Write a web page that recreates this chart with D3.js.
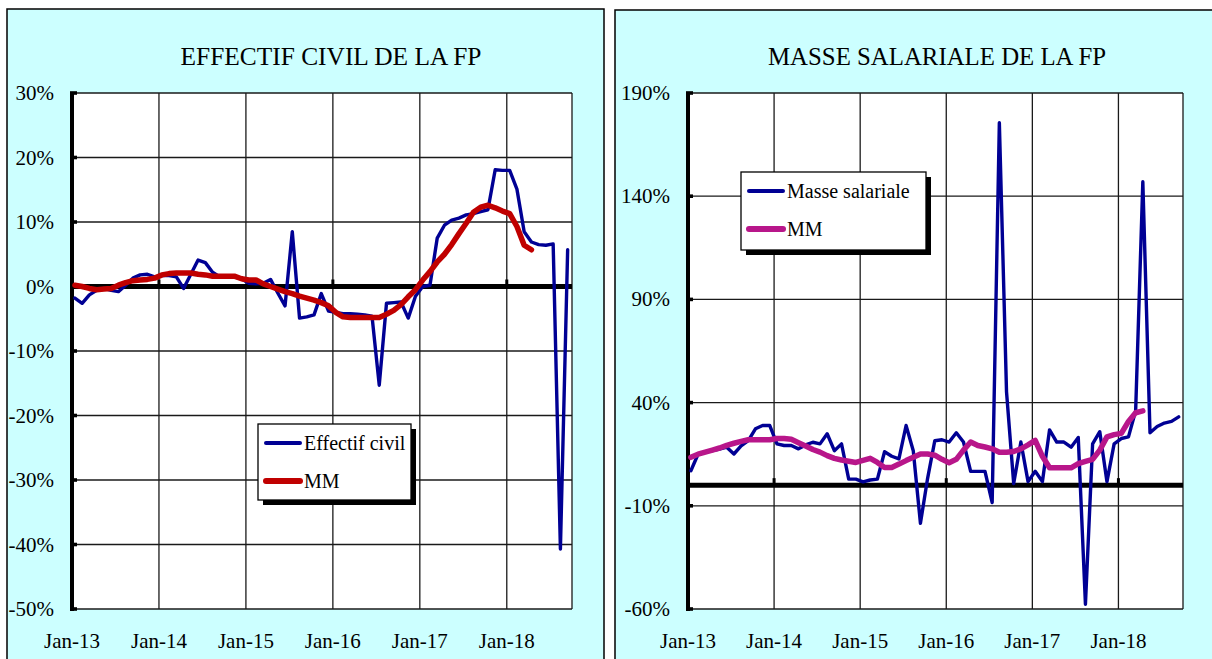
<!DOCTYPE html>
<html>
<head>
<meta charset="utf-8">
<script src="https://cdn.jsdelivr.net/npm/d3@7/dist/d3.min.js"></script>
<style>
  body { margin: 0; background: #fff; }
</style>
</head>
<body>
<script>
//============ data =========//
var xTickLabels = ['Jan-13', 'Jan-14', 'Jan-15', 'Jan-16', 'Jan-17', 'Jan-18'];

// monthly growth rates, Jan-13 onwards (%)
var effectifCivil = [
  -1.8, -2.6, -1.3, -0.6, -0.3, -0.6, -0.8, 0.2, 1.3, 1.8, 1.9, 1.5,
  1.7, 1.7, 1.5, -0.3, 1.9, 4.1, 3.7, 2.2, 1.5, 1.5, 1.5, 1.2,
  0.5, 0.4, 0.5, 1.1, -1.0, -3.0, 8.5, -4.9, -4.7, -4.4, -1.1, -3.8,
  -4.0, -4.2, -4.2, -4.3, -4.4, -4.6, -15.3, -2.6, -2.5, -2.4, -4.9, -1.5,
  0.0, 0.2, 7.5, 9.5, 10.3, 10.6, 11.1, 11.3, 11.6, 11.9, 18.1, 18.0,
  18.0, 15.1, 8.5, 6.9, 6.5, 6.4, 6.6, -40.7, 5.7
];
var effectifMM = [
  0.2, 0.0, -0.3, -0.5, -0.4, -0.3, 0.2, 0.6, 0.9, 1.0, 1.1, 1.3,
  1.8, 2.0, 2.1, 2.1, 2.1, 1.9, 1.8, 1.6, 1.6, 1.6, 1.6, 1.2,
  1.0, 1.0, 0.4, 0.0, -0.4, -0.8, -1.1, -1.5, -1.8, -2.1, -2.5, -3.0,
  -4.0, -4.7, -4.8, -4.8, -4.8, -4.8, -4.8, -4.3, -3.7, -2.8, -1.6, -0.5,
  1.0, 2.3, 3.8, 5.0, 6.5, 8.2, 9.8, 11.5, 12.3, 12.6, 12.2, 11.7,
  11.3, 9.3, 6.4, 5.7
];
var masseSalariale = [
  7.0, 15.0, 16.0, 16.7, 17.5, 18.4, 15.1, 19.0, 21.6, 27.3, 28.9, 28.9,
  20.0, 19.2, 19.2, 17.6, 19.5, 20.8, 20.0, 24.9, 16.7, 20.0, 2.9, 2.9,
  1.6, 2.5, 2.9, 16.2, 14.0, 12.7, 28.9, 16.7, -18.5, 3.3, 21.5, 22.0,
  20.9, 25.4, 20.9, 6.7, 6.7, 6.7, -8.4, 175.6, 45.2, 0.8, 20.9, 1.7,
  6.7, 1.7, 26.8, 20.9, 20.9, 18.4, 23.1, -57.7, 20.0, 25.9, 1.7, 20.0,
  22.6, 23.4, 36.0, 147.0, 25.4, 28.4, 30.1, 30.9, 33.1
];
var masseMM = [
  13.5, 15.0, 16.0, 17.0, 18.0, 19.3, 20.3, 21.2, 22.0, 22.0, 22.0, 22.0,
  22.6, 22.6, 22.2, 20.6, 19.0, 17.3, 16.0, 14.3, 13.0, 12.2, 11.6, 11.0,
  12.0, 13.0, 11.0, 8.6, 8.6, 10.2, 11.9, 13.5, 15.1, 15.1, 14.5, 12.5,
  10.9, 12.5, 17.0, 20.9, 19.2, 18.5, 17.6, 15.9, 15.9, 16.3, 17.6, 19.5,
  21.7, 14.0, 8.4, 8.4, 8.4, 8.4, 10.4, 11.5, 12.5, 17.0, 23.4, 24.5,
  25.1, 30.9, 35.1, 36.0
];
var leftTicks = [30, 20, 10, 0, -10, -20, -30, -40, -50];
var rightTicks = [190, 140, 90, 40, -10, -60];

//============ layout =========//
var W = 1212, H = 659;
var serif = '"Liberation Serif", "DejaVu Serif", serif';
var monthSpan = 69,   // Jan-13 .. Oct-18
    pointOffset = 0.4; // points sit a bit after the month start

var svg = d3.select('body').append('svg')
  .attr('width', W)
  .attr('height', H);

var panels = [
  {
    box: {x: 7, y: 9, w: 597, h: 660},
    plot: {left: 72, right: 572, top: 93, bottom: 609},
    title: 'EFFECTIF CIVIL DE LA FP', titleX: 331, titleLen: 301,
    ticks: leftTicks,
    series: [effectifCivil, effectifMM],
    colors: ['#000094', '#C00000'],
    widths: [3.4, 5.5],
    names: ['Effectif civil', 'MM'],
    legend: {x: 258, y: 424, w: 153, h: 76}
  },
  {
    box: {x: 615, y: 10, w: 600, h: 660},
    plot: {left: 688, right: 1183, top: 93, bottom: 609},
    title: 'MASSE SALARIALE DE LA FP', titleX: 937, titleLen: 338,
    ticks: rightTicks,
    series: [masseSalariale, masseMM],
    colors: ['#000094', '#B8168A'],
    widths: [3.4, 5.5],
    names: ['Masse salariale', 'MM'],
    legend: {x: 741, y: 172, w: 185, h: 78}
  }
];

panels.forEach(drawPanel);

function drawPanel(p) {
  var g = svg.append('g');

  // cyan frame
  g.append('rect')
    .attr('x', p.box.x).attr('y', p.box.y)
    .attr('width', p.box.w).attr('height', p.box.h)
    .style('fill', '#CCFFFF')
    .style('stroke', '#000')
    .style('stroke-width', 1.5);

  g.append('text')
    .attr('x', p.titleX).attr('y', 65)
    .attr('text-anchor', 'middle')
    .attr('textLength', p.titleLen)
    .attr('lengthAdjust', 'spacingAndGlyphs')
    .attr('font-family', serif)
    .attr('font-size', 26)
    .text(p.title);

  var x = d3.scaleLinear().domain([0, monthSpan]).range([p.plot.left, p.plot.right]);
  var y = d3.scaleLinear().domain(d3.extent(p.ticks)).range([p.plot.bottom, p.plot.top]);

  // white plot area
  g.append('rect')
    .attr('x', p.plot.left).attr('y', p.plot.top)
    .attr('width', p.plot.right - p.plot.left)
    .attr('height', p.plot.bottom - p.plot.top)
    .style('fill', '#fff');

  // gridlines
  g.selectAll('.hgrid').data(p.ticks).enter().append('line')
    .attr('x1', p.plot.left).attr('x2', p.plot.right)
    .attr('y1', function(d) { return y(d); })
    .attr('y2', function(d) { return y(d); })
    .style('stroke', '#1a1a1a').style('stroke-width', 1.3);

  var yearMonths = xTickLabels.map(function(d, i) { return i * 12; });
  g.selectAll('.vgrid').data(yearMonths.slice(1).concat([monthSpan])).enter().append('line')
    .attr('x1', function(d) { return x(d); })
    .attr('x2', function(d) { return x(d); })
    .attr('y1', p.plot.top).attr('y2', p.plot.bottom)
    .style('stroke', '#1a1a1a').style('stroke-width', 1.3);

  // zero line with year ticks
  g.append('line')
    .attr('x1', p.plot.left).attr('x2', p.plot.right)
    .attr('y1', y(0)).attr('y2', y(0))
    .style('stroke', '#000').style('stroke-width', 5);
  g.selectAll('.ztick').data([12, 36, 60]).enter().append('rect')
    .attr('x', function(d) { return x(d) - 1.5; })
    .attr('y', y(0) - 7)
    .attr('width', 3).attr('height', 7)
    .style('fill', '#000');

  // y axis
  g.append('line')
    .attr('x1', p.plot.left).attr('x2', p.plot.left)
    .attr('y1', p.plot.top - 1).attr('y2', p.plot.bottom + 2)
    .style('stroke', '#000').style('stroke-width', 4);
  g.selectAll('.ytick').data(p.ticks).enter().append('rect')
    .attr('x', p.plot.left - 2)
    .attr('y', function(d) { return y(d) - 1.8; })
    .attr('width', 7).attr('height', 3.6)
    .style('fill', '#000');

  g.selectAll('.ylab').data(p.ticks).enter().append('text')
    .attr('x', p.plot.left - 18)
    .attr('y', function(d) { return y(d) + 7; })
    .attr('text-anchor', 'end')
    .attr('font-family', serif)
    .attr('font-size', 21)
    .text(function(d) { return d + '%'; });

  g.selectAll('.xlab').data(xTickLabels).enter().append('text')
    .attr('x', function(d, i) { return x(i * 12); })
    .attr('y', 648)
    .attr('text-anchor', 'middle')
    .attr('font-family', serif)
    .attr('font-size', 21)
    .text(function(d) { return d; });

  // series
  var line = d3.line()
    .x(function(d, i) { return x(i + pointOffset); })
    .y(function(d) { return y(d); });

  p.series.forEach(function(s, k) {
    g.append('path')
      .datum(s)
      .attr('d', line)
      .style('fill', 'none')
      .style('stroke', p.colors[k])
      .style('stroke-width', p.widths[k])
      .style('stroke-linejoin', 'round')
      .style('stroke-linecap', 'round');
  });

  // legend with drop shadow
  var L = p.legend;
  g.append('rect')
    .attr('x', L.x + 5).attr('y', L.y + 5)
    .attr('width', L.w).attr('height', L.h)
    .style('fill', '#000');
  g.append('rect')
    .attr('x', L.x).attr('y', L.y)
    .attr('width', L.w).attr('height', L.h)
    .style('fill', '#fff')
    .style('stroke', '#000').style('stroke-width', 1.3);

  p.names.forEach(function(name, k) {
    var ly = L.y + 19 + k * 38;
    g.append('line')
      .attr('x1', L.x + 8).attr('x2', L.x + 42)
      .attr('y1', ly).attr('y2', ly)
      .style('stroke', p.colors[k])
      .style('stroke-width', k === 0 ? 4 : 6)
      .style('stroke-linecap', 'round');
    g.append('text')
      .attr('x', L.x + 46).attr('y', ly + 7)
      .attr('font-family', serif)
      .attr('font-size', 20)
      .text(name);
  });
}
</script>
</body>
</html>
